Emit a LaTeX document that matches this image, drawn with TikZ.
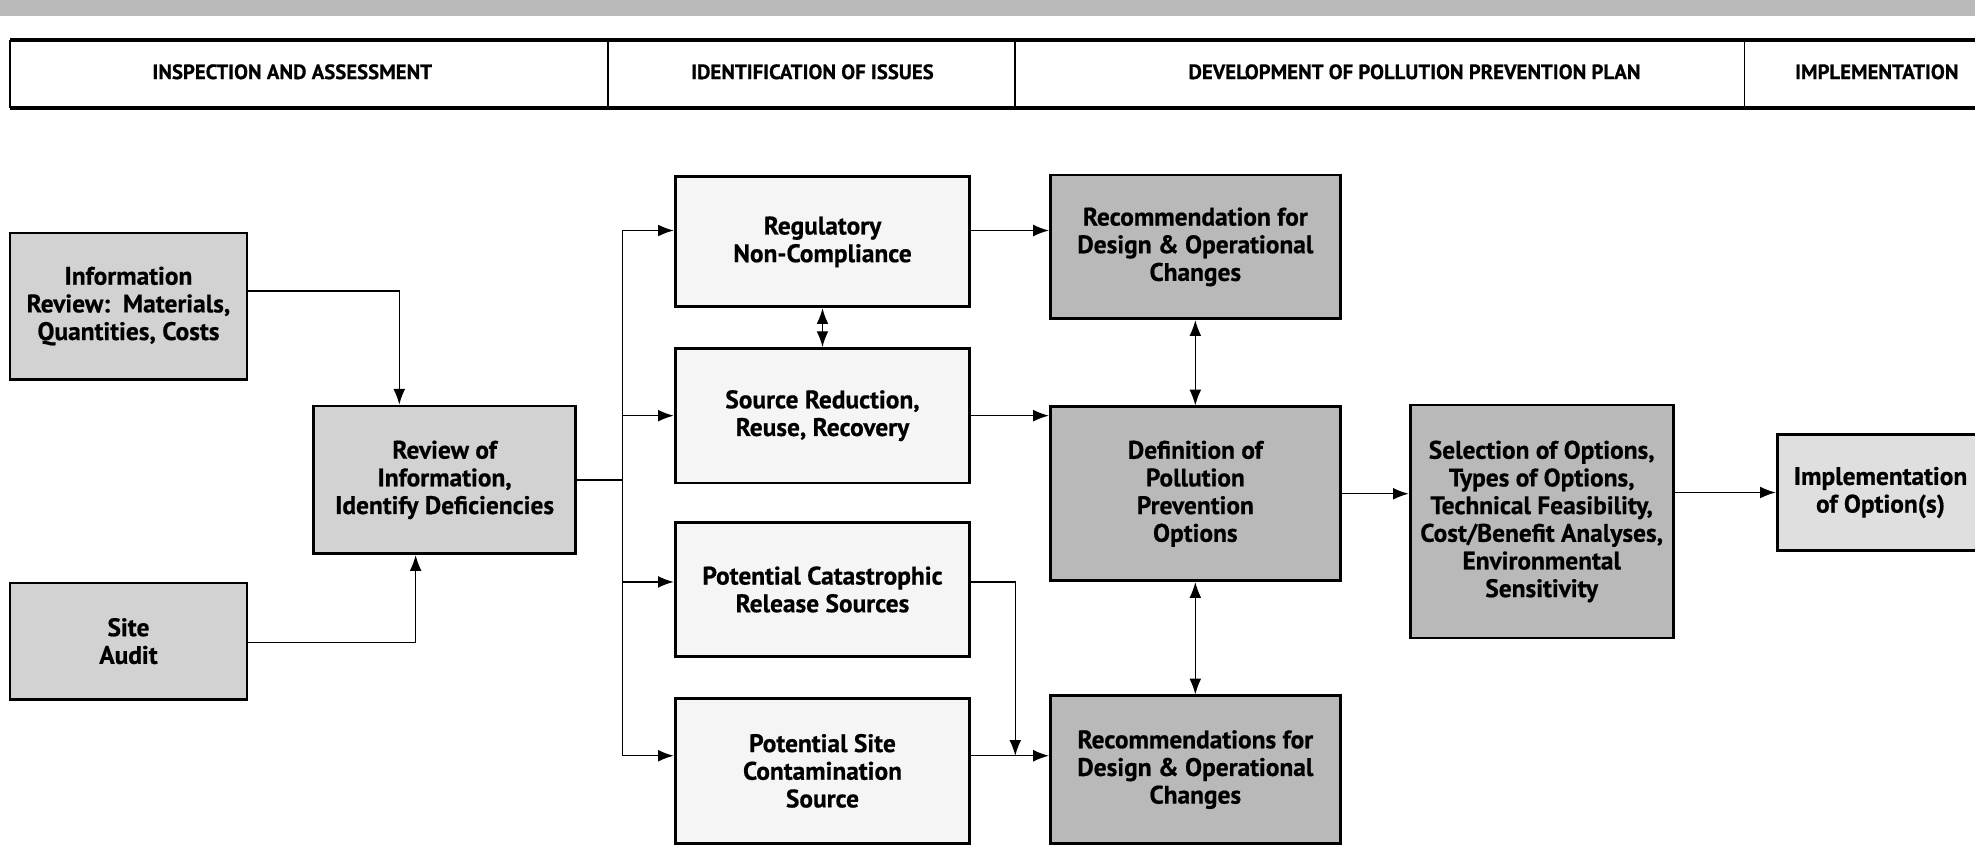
\documentclass[tikz,border=0pt]{standalone}
\usepackage{fontspec}
\newfontfamily\boxfont[BoldFeatures={FakeBold=0.6}]{PT Sans}
\usetikzlibrary{arrows.meta,calc}

\tikzset{
  >={Latex[length=2.4mm,width=1.8mm]},
  box/.style={draw, line width=1.2pt, align=center, inner sep=2pt,
    font=\boxfont\bfseries\fontsize{11}{12}\selectfont},
  lightbox/.style={box, fill=gray!8},
  midbox/.style={box, fill=gray!35},
  darkbox/.style={box, fill=gray!55},
  head/.style={font=\boxfont\bfseries\fontsize{9}{10}\selectfont},
  link/.style={line width=0.6pt}
}

\begin{document}
\begin{tikzpicture}[x=0.0192cm, y=-0.0192cm]

\useasboundingbox (0,0) rectangle (1568,672);
\clip (0,0) rectangle (1568,672);

% band and header
\fill[gray!55] (0,0) rectangle (1568,13);
\draw[line width=1.6pt] (8,32) -- (1590,32);
\draw[line width=1.6pt] (8,86) -- (1590,86);
\draw[line width=0.9pt] (8,32) -- (8,86);
\foreach \x in {483,806,1385}
  \draw[line width=0.8pt] (\x,32) -- (\x,86);

\node[head] (hinsp) at (232,57) {INSPECTION AND ASSESSMENT};
\node[head] (hiden) at (645,57) {IDENTIFICATION OF ISSUES};
\node[head] (hdev) at (1123,57) {DEVELOPMENT OF POLLUTION PREVENTION PLAN};
\node[head] (himpl) at (1490,57) {IMPLEMENTATION};

% inspection and assessment
\node[midbox, minimum width=3.61cm, minimum height=2.23cm] (info) at (102,243)
  {Information\\Review:~~Materials,\\Quantities, Costs};
\node[midbox, minimum width=3.61cm, minimum height=1.77cm] (site) at (102,509)
  {Site\\Audit};
\node[midbox, minimum width=3.99cm, minimum height=2.25cm] (review) at (353,381)
  {Review of\\Information,\\Identify Deficiencies};

% issues
\node[lightbox, minimum width=4.49cm, minimum height=1.98cm] (reg) at (653,192)
  {Regulatory\\Non-Compliance};
\node[lightbox, minimum width=4.49cm, minimum height=2.05cm] (src) at (653,330)
  {Source Reduction,\\Reuse, Recovery};
\node[lightbox, minimum width=4.49cm, minimum height=2.04cm] (cat) at (653,468)
  {Potential Catastrophic\\Release Sources};
\node[lightbox, minimum width=4.49cm, minimum height=2.21cm] (sitec) at (653,612)
  {Potential Site\\Contamination\\Source};

% plan
\node[darkbox, minimum width=4.42cm, minimum height=2.19cm] (rec1) at (949,196)
  {Recommendation for\\Design \& Operational\\Changes};
\node[darkbox, minimum width=4.42cm, minimum height=2.65cm] (defn) at (949,392)
  {Definition of\\Pollution\\Prevention\\Options};
\node[darkbox, minimum width=4.42cm, minimum height=2.25cm] (rec3) at (949,611)
  {Recommendations for\\Design \& Operational\\Changes};
\node[darkbox, minimum width=4.01cm, minimum height=3.55cm] (sel) at (1224,414)
  {Selection of Options,\\Types of Options,\\Technical Feasibility,\\Cost/Benefit Analyses,\\Environmental\\Sensitivity};

% implementation
\node[midbox, fill=gray!25, minimum width=3.15cm, minimum height=1.77cm] (impl) at (1493,391)
  {Implementation\\of Option(s)};

% connectors
\draw[link,->] ($(info.east)+(0,-12)$) -| ($(review.north)+(-36,0)$);
\draw[link,->] ($(site.east)+(0,1)$) -| ($(review.south)+(-23,0)$);

\coordinate (trunk) at ($(review.east)+(36,0)$);
\draw[link] (review.east) -- (trunk);
\draw[link] ($(trunk |- reg.west)+(0,-9)$) -- ($(trunk |- sitec.west)+(0,-12)$);
\foreach \n/\d in {reg/-9, src/0, cat/-6, sitec/-12}
  \draw[link,->] ($(trunk |- \n.west)+(0,\d)$) -- ($(\n.west)+(0,\d)$);

\draw[link,<->] (reg.south) -- (src.north);
\draw[link,->] ($(reg.east)+(0,-9)$) coordinate (a) -- (a -| rec1.west);
\draw[link,->] (src.east) -- (src.east -| defn.west);
\draw[link,->] ($(sitec.east)+(0,-12)$) coordinate (b) -- (b -| rec3.west);
\coordinate (join) at ($(b)+(35,0)$);
\draw[link,->] ($(cat.east)+(0,-6)$) -| (join);

\draw[link,<->] (rec1.south) -- (defn.north);
\draw[link,<->] (defn.south) -- (rec3.north);
\draw[link,->] (defn.east) -- (defn.east -| sel.west);
\draw[link,->] (sel.east |- impl.west) -- (impl.west);

\end{tikzpicture}
\end{document}
